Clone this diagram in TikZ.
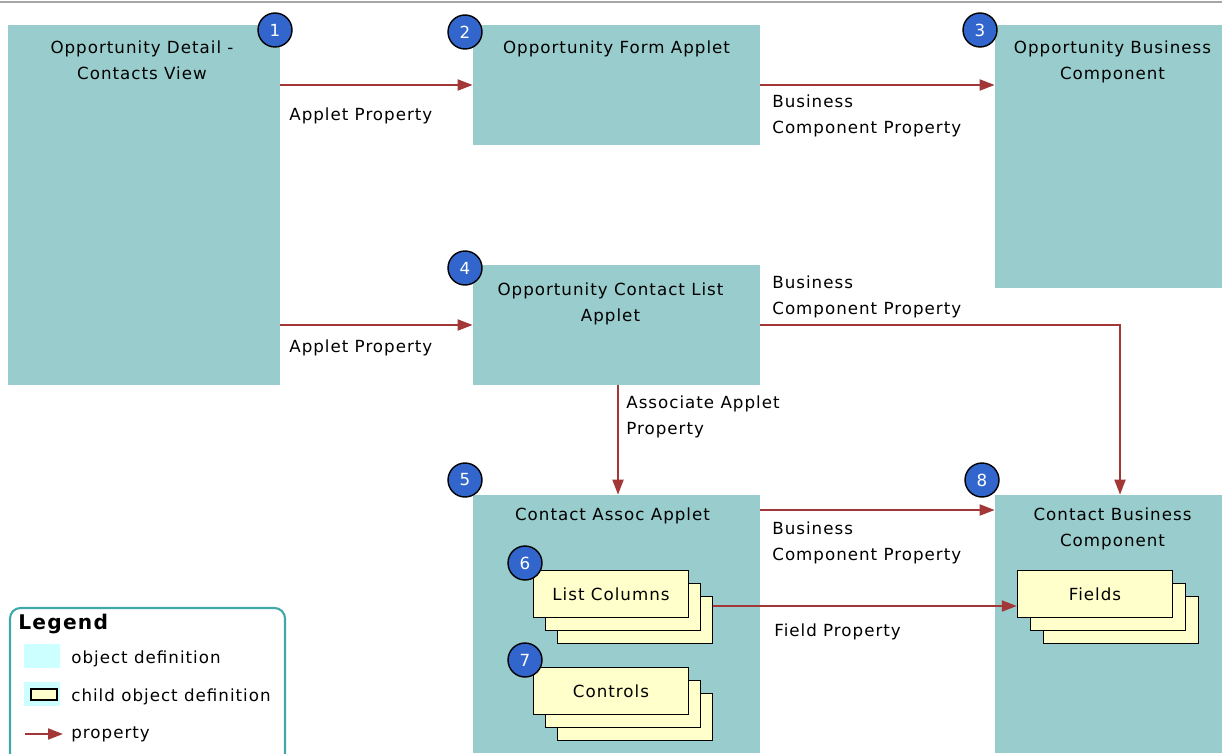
\documentclass[tikz,border=0pt]{standalone}
\usepackage{fontspec}
\setmainfont{DejaVu Sans}[LetterSpace=6]
\usetikzlibrary{arrows.meta, positioning, fit, calc}
\definecolor{objteal}{HTML}{99CCCC}
\definecolor{childyellow}{HTML}{FFFFCC}
\definecolor{badgeblue}{HTML}{3366CC}
\definecolor{proparrow}{HTML}{A33636}
\definecolor{legendcyan}{HTML}{CCFFFF}
\definecolor{legendrim}{HTML}{40A8A8}
\tikzstyle{object} = [rectangle, fill=objteal, inner sep=0pt]
\tikzstyle{objlabel} = [align=center, anchor=north, inner sep=0pt, font=\fontsize{9.5}{14.8}\selectfont]
\tikzstyle{child} = [rectangle, draw=black, line width=0.8pt, fill=childyellow, minimum width=3.1cm, minimum height=0.95cm, font=\fontsize{9.5}{11}\selectfont]
\tikzstyle{badge} = [circle, draw=black, line width=0.8pt, fill=badgeblue, text=white, minimum size=0.68cm, inner sep=0pt, font=\fontsize{9.5}{11}\selectfont]
\tikzstyle{arrow} = [line width=1.1pt, draw=proparrow, -{Triangle[length=0.3cm, width=0.22cm]}]
\tikzstyle{proplabel} = [anchor=north west, align=left, inner sep=0pt, font=\fontsize{9.5}{14.8}\selectfont]

\begin{document}
\begin{tikzpicture}[x=0.02cm, y=-0.02cm]
    \useasboundingbox (0,0) rectangle (1222,753);
    \draw [gray!70, line width=1.2pt] (0,2) -- (1222,2);

    % object definitions
    \node (view) [object, fit={(8,25) (280,385)}] {};
    \node (form) [object, fit={(473,25) (760,145)}] {};
    \node (oppbc) [object, fit={(995,25) (1222,288)}] {};
    \node (listapp) [object, fit={(473,265) (760,385)}] {};
    \node (assoc) [object, fit={(473,495) (760,753)}] {};
    \node (contactbc) [object, fit={(995,495) (1222,753)}] {};

    \node [objlabel] at ($(view.north)+(-2,16)$) {Opportunity Detail -\\Contacts View};
    \node [objlabel] at ($(form.north)+(0,16)$) {Opportunity Form Applet};
    \node [objlabel] at ($(oppbc.north)+(4,16)$) {Opportunity Business\\Component};
    \node [objlabel] at ($(listapp.north)+(-6,18)$) {Opportunity Contact List\\Applet};
    \node [objlabel] at ($(assoc.north)+(-4,13)$) {Contact Assoc Applet};
    \node [objlabel] at ($(contactbc.north)+(4,13)$) {Contact Business\\Component};

    % child object definitions
    \node (cols3) [child] at (635,620) {};
    \node (cols2) [child] at (623,607) {};
    \node (cols) [child] at (611,594) {List Columns};
    \node (ctrls3) [child] at (635,717) {};
    \node (ctrls2) [child] at (623,704) {};
    \node (ctrls) [child] at (611,691) {Controls};
    \node (fields3) [child] at (1121,620) {};
    \node (fields2) [child] at (1108,607) {};
    \node (fields) [child] at (1095,594) {Fields};

    % properties
    \draw [arrow] (view.east |- 0,85) -- (form.west |- 0,85);
    \draw [arrow] (form.east |- 0,85) -- (oppbc.west |- 0,85);
    \draw [arrow] (view.east |- 0,325) -- (listapp.west |- 0,325);
    \draw [arrow] (listapp.east |- 0,325) -| (contactbc.north -| 1120,0);
    \draw [arrow] (listapp.south -| 618,0) -- (assoc.north -| 618,0);
    \draw [arrow] (assoc.east |- 0,510) -- (contactbc.west |- 0,510);
    \draw [arrow] (cols3.east |- 0,606) -- (fields.west |- 0,606);

    \node [proplabel] at (289,107) {Applet Property};
    \node [proplabel] at (772,94) {Business\\Component Property};
    \node [proplabel] at (289,339) {Applet Property};
    \node [proplabel] at (772,275) {Business\\Component Property};
    \node [proplabel] at (626,395) {Associate Applet\\Property};
    \node [proplabel] at (772,521) {Business\\Component Property};
    \node [proplabel] at (774,623) {Field Property};

    % numbers
    \node (n1) [badge] at (275,30) {1};
    \node (n2) [badge] at (465,32) {2};
    \node (n3) [badge] at (980,30) {3};
    \node (n4) [badge] at (465,268) {4};
    \node (n5) [badge] at (465,480) {5};
    \node (n6) [badge] at (525,563) {6};
    \node (n7) [badge] at (525,660) {7};
    \node (n8) [badge] at (982,480) {8};

    % legend
    \node (legend) [draw=legendrim, line width=1.2pt, rounded corners=6pt, fit={(10,608) (285,775)}, inner sep=0pt] {};
    \node (legendtitle) [anchor=north west, inner sep=0pt, font=\fontsize{11.5}{13}\selectfont\bfseries] at (18,614) {Legend};
    \node (objswatch) [fill=legendcyan, fit={(24,644) (60,668)}, inner sep=0pt] {};
    \node [anchor=west, inner sep=0pt, font=\fontsize{9.5}{11}\selectfont] at (71,659) {object definition};
    \node (childswatch) [fill=legendcyan, fit={(24,682) (60,706)}, inner sep=0pt] {};
    \node [draw=black, line width=0.8pt, fill=childyellow, fit={(31,689) (57,700)}, inner sep=0pt] {};
    \node [anchor=west, inner sep=0pt, font=\fontsize{9.5}{11}\selectfont] at (71,697) {child object definition};
    \coordinate (keystart) at (25,734);
    \coordinate (keyend) at (63,734);
    \draw [arrow] (keystart) -- (keyend);
    \node [anchor=west, inner sep=0pt, font=\fontsize{9.5}{11}\selectfont] at (71,734) {property};
\end{tikzpicture}
\end{document}
